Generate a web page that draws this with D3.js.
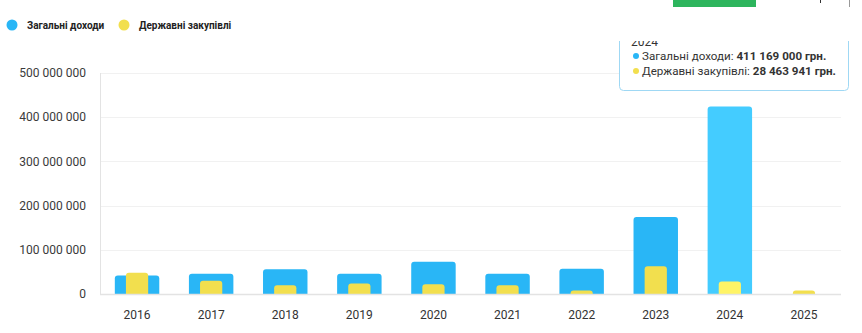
<!DOCTYPE html>
<html><head><meta charset="utf-8">
<script src="https://cdn.jsdelivr.net/npm/d3@7/dist/d3.min.js"></script>
<style>
html,body{margin:0;padding:0;background:#fff;}
svg{display:block;font-family:Roboto,"Noto Sans",sans-serif;}
</style></head>
<body>
<svg id="c" width="862" height="333"></svg>
<script>
const years = ["2016","2017","2018","2019","2020","2021","2022","2023","2024","2025"];
const revenue = [42000000, 46000000, 56000000, 46000000, 73000000, 46000000, 57000000, 174000000, 424000000, 0];
const procurement = [48000000, 30000000, 20000000, 24000000, 22000000, 20000000, 8000000, 63000000, 28463941, 8000000];
const yTicks = [0, 100000000, 200000000, 300000000, 400000000, 500000000];
const seriesNames = ["Загальні доходи", "Державні закупівлі"];
const hoverYear = "2024";
const tooltipTitle = "2024";
const tooltipValues = ["411 169 000 грн.", "28 463 941 грн."];

const svg = d3.select("#c");
const x = d3.scaleBand().domain(years).range([100, 841]);
const y = d3.scaleLinear().domain([0, 500000000]).range([294, 73]);
const fmt = v => d3.format(",")(v).replace(/,/g, " ");

// gridlines
svg.append("g").selectAll("line").data(yTicks.slice(1)).join("line")
  .attr("x1", 100).attr("x2", 841)
  .attr("y1", d => Math.round(y(d)) + 0.5).attr("y2", d => Math.round(y(d)) + 0.5)
  .attr("stroke", "#f1f1f1");

// y labels
svg.append("g").selectAll("text").data(yTicks).join("text")
  .attr("x", 86).attr("y", d => y(d)).attr("dy", "0.35em")
  .attr("text-anchor", "end").attr("font-size", 12).attr("fill", "#3a3a3a")
  .text(d => fmt(d));

function topRounded(x0, w, yTop, yBase, r) {
  const h = yBase - yTop;
  if (h <= 0) return "";
  r = Math.min(r, h, w / 2);
  return `M${x0},${yBase}V${yTop + r}Q${x0},${yTop} ${x0 + r},${yTop}H${x0 + w - r}Q${x0 + w},${yTop} ${x0 + w},${yTop + r}V${yBase}Z`;
}

const bw = x.bandwidth();
const blueW = bw * 0.6, yellowW = bw * 0.3;
svg.append("g").selectAll("path").data(years).join("path")
  .attr("d", (d, i) => topRounded(x(d) + (bw - blueW) / 2, blueW, y(revenue[i]), y(0), 3))
  .attr("fill", d => d === hoverYear ? "#44ccff" : "#29b6f6");
svg.append("g").selectAll("path").data(years).join("path")
  .attr("d", (d, i) => topRounded(x(d) + (bw - yellowW) / 2, yellowW, y(procurement[i]), y(0), 3))
  .attr("fill", d => d === hoverYear ? "#fff466" : "#f2df4e");

// axes lines
svg.append("line").attr("x1", 100.5).attr("x2", 100.5).attr("y1", 73).attr("y2", 294).attr("stroke", "#e3e3e3");
svg.append("line").attr("x1", 100).attr("x2", 841).attr("y1", 294.5).attr("y2", 294.5).attr("stroke", "#e3e3e3").attr("stroke-width", 1.5);

// x labels
svg.append("g").selectAll("text").data(years).join("text")
  .attr("x", d => x(d) + bw / 2).attr("y", 319)
  .attr("text-anchor", "middle").attr("font-size", 12).attr("fill", "#333")
  .text(d => d);

// legend
const leg = svg.append("g");
const legColors = ["#29b6f6", "#f2df4e"];
const legX = [12, 124];
seriesNames.forEach((n, i) => {
  leg.append("circle").attr("cx", legX[i]).attr("cy", 25).attr("r", 5.5).attr("fill", legColors[i]);
  leg.append("text").attr("x", legX[i] + 15).attr("y", 25).attr("dy", "0.35em")
    .attr("font-size", 10).attr("font-weight", "bold").attr("fill", "#222").text(n);
});

// tooltip (clipped at the top)
svg.append("defs").append("clipPath").attr("id", "tclip")
  .append("rect").attr("x", 600).attr("y", 41).attr("width", 262).attr("height", 60);
const tt = svg.append("g").attr("clip-path", "url(#tclip)");
tt.append("rect").attr("x", 619.5).attr("y", 10.5).attr("width", 229).attr("height", 80).attr("rx", 4)
  .attr("fill", "#fff").attr("stroke", "#9fd8f4");
tt.append("text").attr("x", 631).attr("y", 46).attr("font-size", 12).attr("fill", "#333").text(tooltipTitle);
seriesNames.forEach((n, i) => {
  const yy = 56 + i * 15;
  tt.append("circle").attr("cx", 636).attr("cy", yy).attr("r", 3).attr("fill", legColors[i]);
  const t = tt.append("text").attr("x", 642).attr("y", yy).attr("dy", "0.35em").attr("font-size", 11.6).attr("fill", "#333");
  t.append("tspan").text(n + ": ");
  t.append("tspan").attr("font-weight", "bold").text(tooltipValues[i]);
});

// top page elements
svg.append("rect").attr("x", 673).attr("y", 0).attr("width", 83).attr("height", 7).attr("fill", "#2db55d");
svg.append("line").attr("x1", 849.5).attr("x2", 849.5).attr("y1", 0).attr("y2", 7).attr("stroke", "#999");
svg.append("line").attr("x1", 820.5).attr("x2", 820.5).attr("y1", 0).attr("y2", 3).attr("stroke", "#333");
</script>
</body></html>
